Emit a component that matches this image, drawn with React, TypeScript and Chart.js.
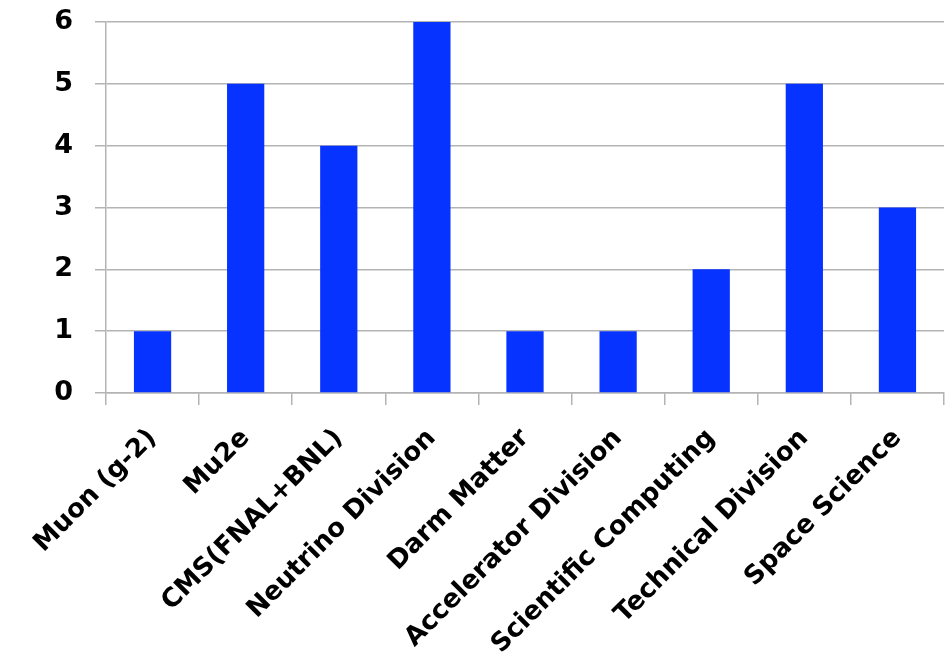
import React, { useEffect, useRef } from "react";
import { Chart, registerables } from "chart.js";

Chart.register(...registerables);

const categories = [
  "Muon (g-2)",
  "Mu2e",
  "CMS(FNAL+BNL)",
  "Neutrino Division",
  "Darm Matter",
  "Accelerator Division",
  "Scientific Computing",
  "Technical Division",
  "Space Science",
];
const counts = [1, 5, 4, 6, 1, 1, 2, 5, 3];
const yTicks = [0, 1, 2, 3, 4, 5, 6];

const FONT = "'DejaVu Sans', sans-serif";

export default function App() {
  const ref = useRef<HTMLCanvasElement | null>(null);
  useEffect(() => {
    document.body.style.margin = "0";
    const ctx = ref.current!.getContext("2d")!;
    const chart = new Chart(ctx, {
      type: "bar",
      data: {
        labels: categories,
        datasets: [
          {
            data: counts,
            backgroundColor: "#0633ff",
            borderWidth: 0,
            categoryPercentage: 1,
            barPercentage: 0.4,
          },
        ],
      },
      options: {
        animation: false,
        responsive: false,
        maintainAspectRatio: false,
        layout: { padding: { top: 22, right: 3, left: 0, bottom: 0 } },
        plugins: { legend: { display: false }, tooltip: { enabled: false } },
        scales: {
          x: {
            afterFit: (axis: any) => {
              axis.height = 266;
            },
            grid: {
              display: true,
              drawOnChartArea: false,
              drawTicks: true,
              tickLength: 12,
              color: "#b4b4b4",
              lineWidth: 1.5,
              offset: true,
            },
            border: { display: true, color: "#b4b4b4", width: 1.5 },
            ticks: {
              maxRotation: 45,
              minRotation: 45,
              autoSkip: false,
              color: "#000",
              padding: 18,
              font: { family: FONT, size: 26, weight: "bold" },
            },
          },
          y: {
            min: 0,
            max: 6,
            afterBuildTicks: (axis: any) => {
              axis.ticks = yTicks.map((v) => ({ value: v }));
            },
            afterFit: (axis: any) => {
              axis.width = 106;
              axis.paddingTop = 0;
              axis.paddingBottom = 0;
            },
            grid: {
              color: "#b4b4b4",
              lineWidth: 1.5,
              tickLength: 11,
              drawTicks: true,
            },
            border: { display: true, color: "#b4b4b4", width: 1.5 },
            ticks: {
              color: "#000",
              padding: 22,
              font: { family: FONT, size: 27, weight: "bold", lineHeight: 1.2 },
            },
          },
        },
      },
    });
    return () => chart.destroy();
  }, []);
  return (
    <div style={{ position: "absolute", left: 0, top: 0, width: 947, height: 659 }}>
      <canvas ref={ref} width={947} height={659} />
    </div>
  );
}
